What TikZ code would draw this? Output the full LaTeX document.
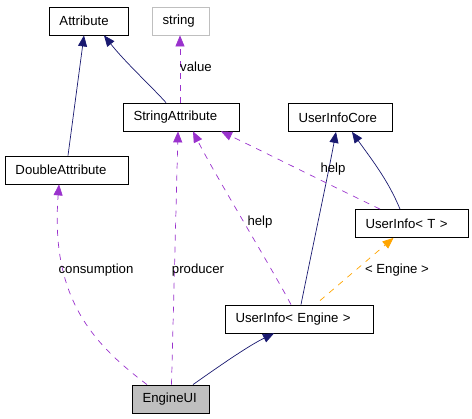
\documentclass[tikz,border=0pt]{standalone}
\usepackage{fontspec}
\setmainfont{Liberation Sans}
\usetikzlibrary{arrows.meta}
\definecolor{navy}{HTML}{191970}
\definecolor{purp}{HTML}{9A32CD}
\definecolor{orng}{HTML}{FFA500}
\definecolor{boxgray}{HTML}{BFBFBF}
\begin{document}
\begin{tikzpicture}[x=1pt,y=-1pt,
  every node/.style={font=\fontsize{13.2}{15}\selectfont},
  cls/.style={draw=black, line width=0.8pt, rectangle, minimum height=28pt, inner xsep=10.5pt, inner ysep=0pt, align=left, text width=#1-21pt},
  lbl/.style={inner sep=0pt},
  inh/.style={draw=navy, line width=0.7pt, -{Triangle[length=11pt,width=9pt]}},
  dep/.style={draw=purp, line width=0.7pt, dash pattern=on 6pt off 6pt, -{Triangle[length=11pt,width=9pt]}},
  tpl/.style={draw=orng, line width=0.7pt, dash pattern=on 6pt off 6pt, -{Triangle[length=11pt,width=9pt]}}]
\useasboundingbox (0,0) rectangle (472,419);
\node[cls=79pt] (attr) at (88.5,21) {Attribute};
\node[cls=57pt, draw=boxgray] (str) at (180.5,21) {string};
\node[cls=116pt] (sattr) at (181,117) {StringAttribute};
\node[cls=123pt] (dattr) at (66.5,170) {DoubleAttribute};
\node[cls=104pt] (uic) at (340,117.5) {UserInfoCore};
\node[cls=113pt] (uit) at (411.5,223.5) {UserInfo< T >};
\node[cls=148pt] (uie) at (299,319) {UserInfo< Engine >};
\node[cls=77pt, fill=boxgray] (eui) at (170.5,399) {EngineUI};

% inheritance
\draw[inh] ([xshift=1.5pt]dattr.north) -- ([xshift=-4.5pt]attr.south);
\draw[inh] ([xshift=-15pt]sattr.north) .. controls (150,85) and (125,62) .. ([xshift=15.5pt]attr.south);
\draw[inh] ([xshift=2pt]uie.north) .. controls (312,250) and (328,175) .. ([xshift=-4pt]uic.south);
\draw[inh] ([xshift=-11.5pt]uit.north) .. controls (388,180) and (372,160) .. ([xshift=12pt]uic.south);
\draw[inh] ([xshift=22.5pt]eui.north) .. controls (225,362) and (250,345) .. ([xshift=-25pt]uie.south);

% usage
\draw[dep] ([xshift=-1pt]sattr.north) -- ([xshift=-0.5pt]str.south);
\draw[dep] ([xshift=1pt]eui.north) -- ([xshift=-3pt]sattr.south);
\draw[dep] ([xshift=-8pt]uie.north) .. controls (270,265) and (215,175) .. ([xshift=12pt]sattr.south);
\draw[dep] ([xshift=-31.5pt]uit.north) .. controls (330,185) and (260,150) .. ([xshift=40pt]sattr.south);
\draw[dep] ([xshift=-23.5pt]eui.north) .. controls (95,345) and (50,300) .. ([xshift=-7.5pt]dattr.south);

% template
\draw[tpl] ([xshift=21pt,yshift=4pt]uie.north) -- ([xshift=-18pt]uit.south);

% labels
\node[lbl] (lvalue) at (196,67) {value};
\node[lbl] (lhelpa) at (333,169) {help};
\node[lbl] (lhelpb) at (260,222) {help};
\node[lbl] (lcons) at (96,270) {consumption};
\node[lbl] (lprod) at (198,270) {producer};
\node[lbl] (leng) at (397,270) {< Engine >};
\end{tikzpicture}
\end{document}
